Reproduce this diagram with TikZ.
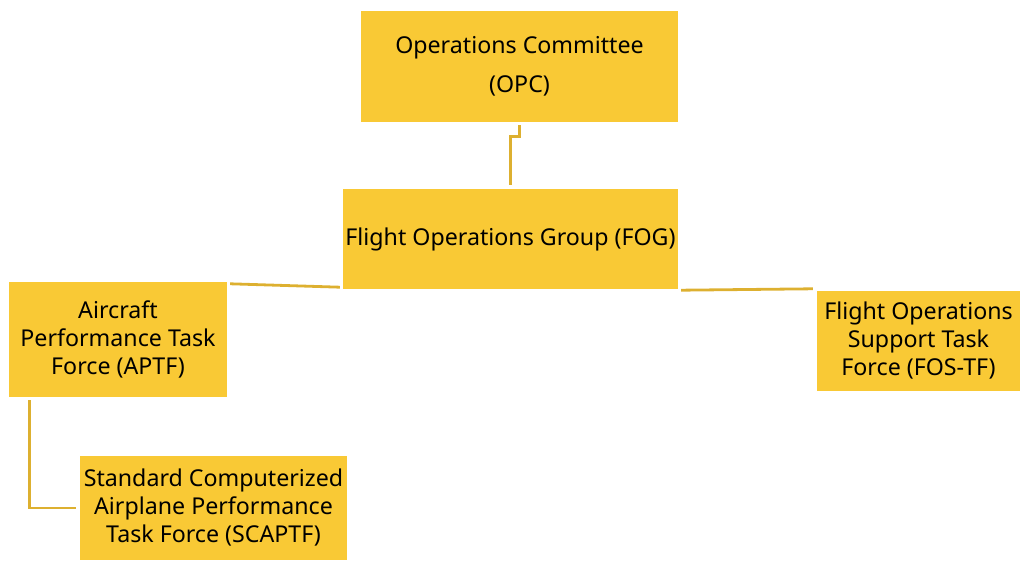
\documentclass[tikz,border=0pt]{standalone}
\usepackage{fontspec}
\setmainfont{Noto Sans}
\usepackage{tikz}
\usetikzlibrary{positioning}

\definecolor{boxgold}{HTML}{F9C935}
\definecolor{linkgold}{HTML}{DDB030}

\tikzset{
  box/.style={fill=boxgold, align=center, inner sep=0pt,
    font=\fontsize{23.2}{28}\selectfont, text=black},
  link/.style={draw=linkgold, line width=2.8pt}
}

\begin{document}
\begin{tikzpicture}[x=1pt, y=1pt]
  \useasboundingbox (0,0) rectangle (1020,560);

  \node [box, minimum width=317pt, minimum height=111pt,
    font=\fontsize{23.2}{39}\selectfont] (opc) at (519.5,493.5)
    {Operations Committee\\(OPC)};
  \node [box, minimum width=335pt, minimum height=100pt] (fog) at (510.5,321)
    {Flight Operations Group (FOG)};
  \node [box, minimum width=218pt, minimum height=115pt] (aptf) at (118,220.5)
    {Aircraft\\Performance Task\\Force (APTF)};
  \node [box, minimum width=203pt, minimum height=100pt] (fostf) at (918.5,219)
    {Flight Operations\\Support Task\\Force (FOS-TF)};
  \node [box, minimum width=267pt, minimum height=104pt] (scaptf) at (213.5,52)
    {Standard Computerized\\Airplane Performance\\Task Force (SCAPTF)};

  % connectors
  \draw [link] ([yshift=-3pt]opc.south) -- ++(0,-11) -| ([yshift=4pt]fog.north);
  \draw [link] ([shift={(-3pt,2pt)}]fog.south west) -- ([shift={(3pt,-2pt)}]aptf.north east);
  \draw [link] ([shift={(3pt,-1pt)}]fog.south east) -- ([shift={(-4pt,2pt)}]fostf.north west);
  \draw [link] ([shift={(21pt,-3pt)}]aptf.south west) |- ([xshift=-4pt]scaptf.west);
\end{tikzpicture}
\end{document}
